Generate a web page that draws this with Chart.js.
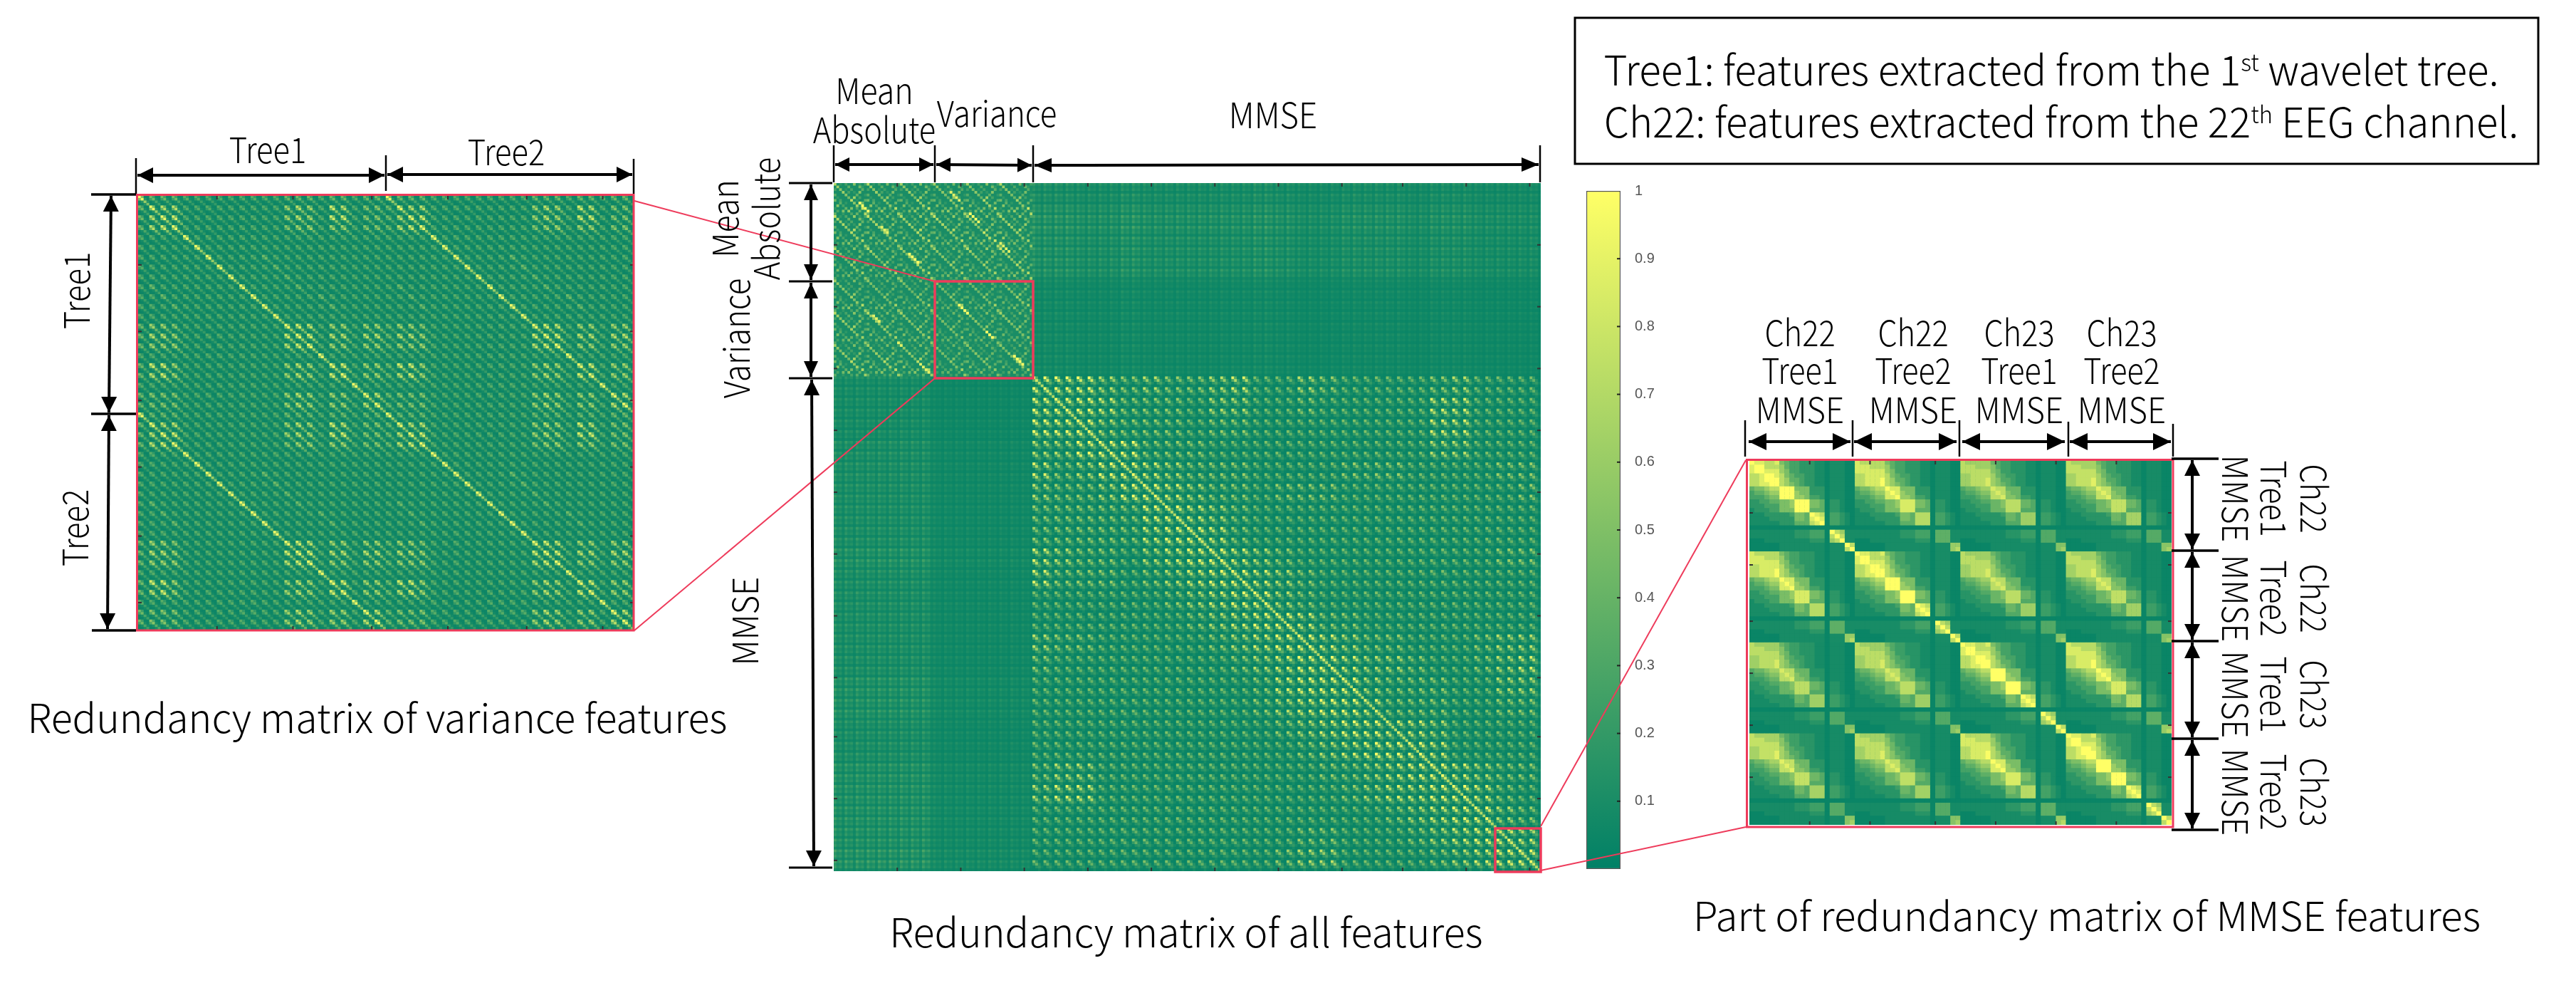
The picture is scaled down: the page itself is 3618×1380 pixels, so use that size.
<!DOCTYPE html>
<html>
<head>
<meta charset="utf-8">
<title>Redundancy matrices</title>
<script src="https://cdn.jsdelivr.net/npm/chart.js@4"></script>
<style>
  html, body { margin: 0; padding: 0; background: #fff; }
  #page { position: relative; width: 3618px; height: 1380px; overflow: hidden; background: #fff; }
  canvas { position: absolute; display: block; }
  svg { position: absolute; left: 0; top: 0; }
  .lbl { position: absolute; white-space: nowrap; color: #000; line-height: 1;
         font-family: "Noto Sans CJK SC", "Noto Sans", sans-serif; font-weight: 300; }
  .lbl sup { font-size: 58%; line-height: 0; }
</style>
</head>
<body>
<div id="page"></div>
<script>
// All levels below are estimated by eye from the picture, on a 0-9 scale.

// ---- right matrix: four 21x21 blocks
const rightOwnBlock = [
  '988778543322211011100', '899777643322211011100', '899888653322211011100',
  '778998754332211011100', '778999764432211011100', '778899765432211011100',
  '455677999555222011100', '344566999655222011100', '333455999665332011100',
  '223344556999554022100', '222333556999554022100', '122233555999444022100',
  '111222223554987033210', '111122222554898033210', '111111222444789033210',
  '000000000000000000000', '111111111222333097611', '111111111222333079711',
  '000111111111222067911', '000000111111111011197', '000000111111111011179'
];
const rightCrossBlock = [
  '877777543322211011100', '888777643322211011100', '888888653322211011100',
  '778888754332211011100', '778889764432211011100', '778889765432211011100',
  '455677988555222011100', '344566898655222011100', '333455889665332011100',
  '223344556888554022100', '222333556888554022100', '122233555888444022100',
  '111222223554777033210', '111122222554777033210', '111111222444777033210',
  '000000000000000000000', '111111111222333044411', '111111111222333044411',
  '000111111111222044411', '000000111111111011166', '000000111111111011167'
];
const rightBlockGain = [
  [1.00, 0.98, 0.84, 0.88],
  [0.98, 1.00, 0.84, 0.86],
  [0.84, 0.84, 1.00, 0.98],
  [0.88, 0.86, 0.98, 1.00]
];
const rightTicks = [12, 24, 37, 49, 61, 73];

// ---- left matrix: spot tile and level per tile inside one tree block
const treeTile = ['8400', '4810', '0151', '0014'];
const treeLevel = [
  '9444333333333444344344', '4977333333333676387355', '4798333333333676388355',
  '4789333333333566366355', '3333933333333333333333', '3333393333333333333333',
  '3333339333343333333333', '3333333933334333333333', '3333333393333433333333',
  '3433333339333343333333', '3343333333933333433333', '3334333333393333343333',
  '3333333333339333333333', '4665333333333987366366', '4776333333333898377377',
  '4666333333333789366366', '3333333333333333933333', '4886333333333676398366',
  '4786333333333676389366', '3333333333333333333933', '4555333333333676366397',
  '4555333333333676366379'
];
const treeTicks = [28, 55, 83, 110, 138, 165];

// ---- middle matrix, MMSE part: comet tile and level per 8 cells
const cometTile = ['9300', '3720', '0231', '0010'];
const mmseLevel = [
  '99976766785576555567555', '99986665775565555588555', '99976665665555555588555',
  '77999666555555555577555', '86799876665555666555566', '76679987665666555555556',
  '66666998765555555555555', '66666899865555555555555', '87665789987655555555566',
  '86665678998765555555555', '55555567899765555555555', '55555556789986655555555',
  '76655555678998766555677', '65555555567899877655678', '55555555556899976665577',
  '55555555556789986665566', '55555555555678998875555', '55555555555567899985555',
  '67755555555556678998766', '78855555555555678899865', '55555555555555556789976',
  '55555555555566555678998', '55555555555677555567899'
];
// middle matrix, mean absolute + variance part
const speckleTile = [
  '701020050102', '060003000410', '205010200030',
  '000602010500', '300050003001', '010004060200',
  '402000701003', '003010050040', '050200006100',
  '100030402070', '020405000301', '300100203006'
];
const speckleLevel = [
  '88787787', '99899889', '88787897', '77787778',
  '76666667', '88776777', '77776666', '88886767'
];
// [row, column, length, level] of the brighter short streaks
const speckleStreaks = [
  [7, 9, 4, 9], [16, 17, 3, 8], [26, 27, 4, 9], [3, 42, 4, 8], [11, 49, 4, 9], [22, 60, 4, 8],
  [45, 45, 4, 9], [55, 55, 3, 9], [49, 14, 3, 8], [59, 23, 2, 8], [67, 31, 4, 8], [64, 65, 4, 9]
];
// faint cross terms between the two groups
const crossTile = [3, 1, 2, 0];
const crossTopRowLevel = [5, 7, 6, 6, 3, 3, 3, 3];
const crossTopColLevel = [6, 6, 5, 5, 6, 5, 5, 5, 5, 5, 6, 5, 4, 4, 5, 5, 5, 4, 5, 5, 4, 4, 4];
const crossLeftColLevel = [6, 6, 6, 6, 3, 3, 3, 3];
const crossLeftRowLevel = [4, 4, 4, 5, 5, 5, 5, 5, 6, 5, 5, 5, 5, 5, 6, 6, 5, 5, 6, 6, 6, 6, 7];
const middleTicks = [23, 46, 69, 92, 115, 138, 161, 184, 206, 229, 252];

// ---- colour bar
const colorbarTicks = [0.1, 0.2, 0.3, 0.4, 0.5, 0.6, 0.7, 0.8, 0.9, 1];

const RED = '#ee3b5b';

function summer(v) {
  v = Math.max(0, Math.min(1, v));
  return `rgb(${Math.round(255 * v)},${Math.round(128 + 127 * v)},102)`;
}

function digit(table, r, c) {
  return +table[r][c];
}

// the eye reads the low end of this colour map too bright, so the 0-9 levels are not linear
function level(d) {
  return Math.pow(d / 9, 1.3);
}

function rightCell(i, j) {
  const bi = Math.floor(i / 21), bj = Math.floor(j / 21);
  const table = bi === bj ? rightOwnBlock : rightCrossBlock;
  return 0.04 + 0.96 * level(digit(table, i % 21, j % 21)) * rightBlockGain[bi][bj];
}

function leftCell(i, j) {
  const ti = Math.floor((i % 88) / 4), tj = Math.floor((j % 88) / 4);
  return 0.05 + digit(treeTile, i % 4, j % 4) / 9 * digit(treeLevel, ti, tj) / 9;
}

function middleCell(i, j) {
  if (i >= 72 && j >= 72) {
    const a = i - 72, b = j - 72;
    const v = 0.04 + digit(cometTile, a % 4, b % 4) / 9 * level(digit(mmseLevel, a >> 3, b >> 3));
    return a === b ? Math.max(v, 0.7) : v;
  }
  if (i < 72 && j < 72) {
    for (const [r, c, len, lev] of speckleStreaks) {
      if (i - r === j - c && i >= r && i < r + len) return lev / 9;
    }
    return 0.1 + 0.9 * digit(speckleTile, i % 12, j % 12) / 9 * digit(speckleLevel, Math.floor(i / 9), Math.floor(j / 9)) / 9;
  }
  const dots = (crossTile[i % 4] + 1) * (crossTile[j % 4] + 1) / 16;
  if (i < 72) {
    return 0.035 + dots * crossTopRowLevel[Math.floor(i / 9)] / 9 * crossTopColLevel[(j - 72) >> 3] / 9 * 0.5;
  }
  return 0.035 + dots * crossLeftRowLevel[(i - 72) >> 3] / 9 * crossLeftColLevel[Math.floor(j / 9)] / 9 * 0.5;
}

const page = document.getElementById('page');

function addCanvas(x, y, w, h) {
  const c = document.createElement('canvas');
  c.width = w; c.height = h;
  c.style.left = x + 'px'; c.style.top = y + 'px';
  c.style.width = w + 'px'; c.style.height = h + 'px';
  page.appendChild(c);
  return c;
}

// base colour below the cells, so no seams show between them
const platePlugin = {
  id: 'plate',
  beforeDatasetsDraw(chart) {
    const a = chart.chartArea;
    chart.ctx.fillStyle = summer(0.04);
    chart.ctx.fillRect(a.left, a.top, a.width, a.height);
  }
};

// short matlab style ticks on the inside of the frame
const innerTicksPlugin = {
  id: 'innerTicks',
  afterDatasetsDraw(chart, args, opts) {
    const { ctx, chartArea: a, scales } = chart;
    ctx.save();
    ctx.fillStyle = '#333';
    opts.values.forEach(v => {
      const x = scales.x.getPixelForValue(v), y = scales.y.getPixelForValue(v);
      ctx.fillRect(x - 1, a.top, 2, 5);
      ctx.fillRect(x - 1, a.bottom - 5, 2, 5);
      ctx.fillRect(a.left, y - 1, 5, 2);
      ctx.fillRect(a.right - 5, y - 1, 5, 2);
    });
    ctx.restore();
  }
};

function heatmap(x, y, w, h, n, cellFn, ticks) {
  const points = [], colors = [];
  for (let i = 0; i < n; i++) {
    for (let j = 0; j < n; j++) {
      points.push({ x: j + 0.5, y: i + 0.5 });
      colors.push(summer(cellFn(i, j)));
    }
  }
  const side = Math.max(w, h) / n + 0.4;
  return new Chart(addCanvas(x, y, w, h), {
    type: 'scatter',
    data: {
      datasets: [{
        data: points,
        pointStyle: 'rect',
        pointRadius: side / Math.SQRT2,
        pointBorderWidth: 0,
        pointBackgroundColor: colors
      }]
    },
    options: {
      responsive: false,
      animation: false,
      events: [],
      parsing: false,
      normalized: true,
      layout: { autoPadding: false, padding: 0 },
      plugins: { legend: { display: false }, tooltip: { enabled: false }, innerTicks: { values: ticks } },
      scales: {
        x: { type: 'linear', display: false, min: 0, max: n },
        y: { type: 'linear', display: false, min: 0, max: n, reverse: true }
      }
    },
    plugins: [platePlugin, innerTicksPlugin]
  });
}

heatmap(194, 275, 696, 609, 176, leftCell, treeTicks);
heatmap(1171, 257, 993, 966, 256, middleCell, middleTicks);
heatmap(2457, 647, 593, 511, 84, rightCell, rightTicks);

// colour bar
new Chart(addCanvas(2228, 256, 120, 975), {
  type: 'bar',
  data: {
    labels: ['c'],
    datasets: [{
      data: [[0, 1]],
      barPercentage: 1,
      categoryPercentage: 1,
      borderColor: '#555',
      borderWidth: 1.5,
      borderSkipped: false,
      backgroundColor(ctx) {
        const a = ctx.chart.chartArea;
        if (!a) return summer(0.5);
        const g = ctx.chart.ctx.createLinearGradient(0, a.bottom, 0, a.top);
        g.addColorStop(0, summer(0));
        g.addColorStop(1, summer(1));
        return g;
      }
    }]
  },
  options: {
    responsive: false,
    animation: false,
    events: [],
    layout: { autoPadding: false, padding: { top: 12, bottom: 11, left: 0, right: 0 } },
    plugins: { legend: { display: false }, tooltip: { enabled: false } },
    scales: {
      x: { display: false },
      y: {
        position: 'right',
        min: 0,
        max: 1,
        afterBuildTicks(scale) { scale.ticks = colorbarTicks.map(value => ({ value })); },
        afterFit(scale) { scale.width = 72; scale.paddingTop = 0; scale.paddingBottom = 0; },
        border: { display: false },
        grid: { display: false },
        ticks: {
          padding: 12,
          color: '#555',
          font: { family: '"Liberation Sans"', size: 20 },
          callback: v => String(v)
        }
      }
    }
  },
  plugins: [{
    id: 'barTicks',
    afterDatasetsDraw(chart) {
      const { ctx, chartArea: a, scales } = chart;
      ctx.fillStyle = '#222';
      colorbarTicks.forEach(v => {
        if (v < 1) ctx.fillRect(a.right - 5, scales.y.getPixelForValue(v) - 1, 5, 2);
      });
    }
  }]
});

// ---- annotations
const NS = 'http://www.w3.org/2000/svg';
const svg = document.createElementNS(NS, 'svg');
svg.setAttribute('width', 3618);
svg.setAttribute('height', 1380);
page.appendChild(svg);

function seg(x1, y1, x2, y2, w, color) {
  const l = document.createElementNS(NS, 'line');
  l.setAttribute('x1', x1); l.setAttribute('y1', y1);
  l.setAttribute('x2', x2); l.setAttribute('y2', y2);
  l.setAttribute('stroke', color || '#000');
  l.setAttribute('stroke-width', w || 3);
  svg.appendChild(l);
}

function head(x, y, dx, dy, len, half) {
  const p = document.createElementNS(NS, 'polygon');
  const bx = x - dx * len, by = y - dy * len;
  p.setAttribute('points', `${x},${y} ${bx - dy * half},${by + dx * half} ${bx + dy * half},${by - dx * half}`);
  svg.appendChild(p);
}

function arrow(x1, y1, x2, y2, len, half) {
  const d = Math.hypot(x2 - x1, y2 - y1), dx = (x2 - x1) / d, dy = (y2 - y1) / d;
  seg(x1, y1, x2, y2, 4);
  head(x2, y2, dx, dy, len, half);
  head(x1, y1, -dx, -dy, len, half);
}

function frame(x1, y1, x2, y2, w, color) {
  const r = document.createElementNS(NS, 'rect');
  r.setAttribute('x', x1); r.setAttribute('y', y1);
  r.setAttribute('width', x2 - x1); r.setAttribute('height', y2 - y1);
  r.setAttribute('fill', 'none');
  r.setAttribute('stroke', color);
  r.setAttribute('stroke-width', w);
  svg.appendChild(r);
}

// text centred on (cx, cy), squeezed to the width it has in the reference
function label(html, cx, cy, size, width, rot) {
  const d = document.createElement('div');
  d.className = 'lbl';
  d.innerHTML = html;
  d.style.fontSize = size + 'px';
  d.style.left = cx + 'px';
  d.style.top = cy + 'px';
  page.appendChild(d);
  const sx = width ? width / d.offsetWidth : 1;
  d.style.transform = `translate(-50%,-50%) rotate(${rot || 0}deg) scaleX(${sx})`;
}

// red frames and connectors
frame(192.5, 273.5, 890, 885, 3, RED);
frame(1313, 395, 1451, 531, 3.5, RED);
frame(2100, 1163, 2164, 1224, 3.5, RED);
frame(2453.5, 645.5, 3052, 1161, 3, RED);
seg(891, 282, 1313, 395, 2, RED);
seg(891, 885, 1313, 531, 2, RED);
seg(2164, 1160, 2452, 646, 2, RED);
seg(2164, 1222, 2452, 1161, 2, RED);

// left matrix
seg(191, 222, 191, 272, 2.5); seg(542, 218, 542, 268, 2.5); seg(890, 223, 890, 272, 2.5);
arrow(193, 246, 540, 246, 22, 11);
arrow(544, 245, 888, 245, 22, 11);
seg(128, 273, 191, 273, 3.5); seg(128, 581, 191, 581, 3.5); seg(129, 885, 191, 885, 3.5);
arrow(156, 275, 153, 579, 22, 11);
arrow(153, 583, 151, 883, 22, 11);

// middle matrix
[1171, 1313, 1451, 2163].forEach(x => seg(x, 204, x, 256, 2.5));
arrow(1173, 231, 1311, 231, 20, 10);
arrow(1315, 231, 1449, 232, 20, 10);
arrow(1453, 232, 2161, 231, 24, 10);
[[257, 1169], [395, 1169], [531, 1169], [1218, 1169]].forEach(b => seg(1108, b[0], b[1], b[0], 3));
arrow(1139, 259, 1139, 393, 22, 10);
arrow(1139, 397, 1139, 529, 22, 10);
arrow(1140, 533, 1143, 1216, 22, 11);

// right matrix
[[2451, 590], [2602, 590], [2752, 590], [2905, 592], [3052, 595]].forEach(t => seg(t[0], t[1], t[0], 641, 2.5));
arrow(2456, 620, 2599, 620, 25, 12);
arrow(2604, 620, 2748, 620, 25, 12);
arrow(2756, 620, 2900, 620, 25, 12);
arrow(2907, 620, 3049, 620, 25, 12);
[644, 773, 900, 1037, 1165].forEach(y => seg(3050, y, 3116, y, 3.5));
arrow(3079, 646, 3079, 771, 22, 11);
arrow(3079, 775, 3079, 898, 22, 11);
arrow(3079, 902, 3079, 1035, 22, 11);
arrow(3079, 1039, 3079, 1163, 22, 11);

// legend box
frame(2212, 25, 3565, 230, 3, '#000');

// text
const T = 50;
label('Tree1', 376, 207, T, 108);
label('Tree2', 711, 210, T, 108);
label('Tree1', 104, 408, T, 108, -90);
label('Tree2', 102, 741, T, 108, -90);
label('Redundancy matrix of variance features', 530, 1005, 56, 983);

label('Mean', 1228, 124, T, 109);
label('Absolute', 1228, 179, T, 172);
label('Variance', 1400, 156, T, 169);
label('MMSE', 1788, 158, T, 124);
label('Mean', 1015, 307, T, 109, -90);
label('Absolute', 1073, 307, T, 172, -90);
label('Variance', 1031, 475, T, 169, -90);
label('MMSE', 1043, 872, T, 124, -90);
label('Redundancy matrix of all features', 1666, 1306, 56, 833);

['Ch22', 'Ch22', 'Ch23', 'Ch23'].forEach((t, i) => label(t, [2528, 2687, 2836, 2980][i], 464, T, 99));
['Tree1', 'Tree2', 'Tree1', 'Tree2'].forEach((t, i) => label(t, [2528, 2687, 2836, 2980][i], 517, T, 107));
[2528, 2687, 2836, 2980].forEach(x => label('MMSE', x, 572, T, 124));
[700, 840, 975, 1112].forEach((y, i) => {
  label('MMSE', 3143, y, T, 122, 90);
  label(['Tree1', 'Tree2', 'Tree1', 'Tree2'][i], 3197, y, T, 107, 90);
  label(['Ch22', 'Ch22', 'Ch23', 'Ch23'][i], 3253, y, T, 97, 90);
});
label('Part of redundancy matrix of MMSE features', 2931, 1283, 56, 1106);

label('Tree1: features extracted from the 1<sup>st</sup> wavelet tree.', 2881, 95, 58, 1257);
label('Ch22: features extracted from the 22<sup>th</sup> EEG channel.', 2895, 168, 58, 1285);
</script>
</body>
</html>
